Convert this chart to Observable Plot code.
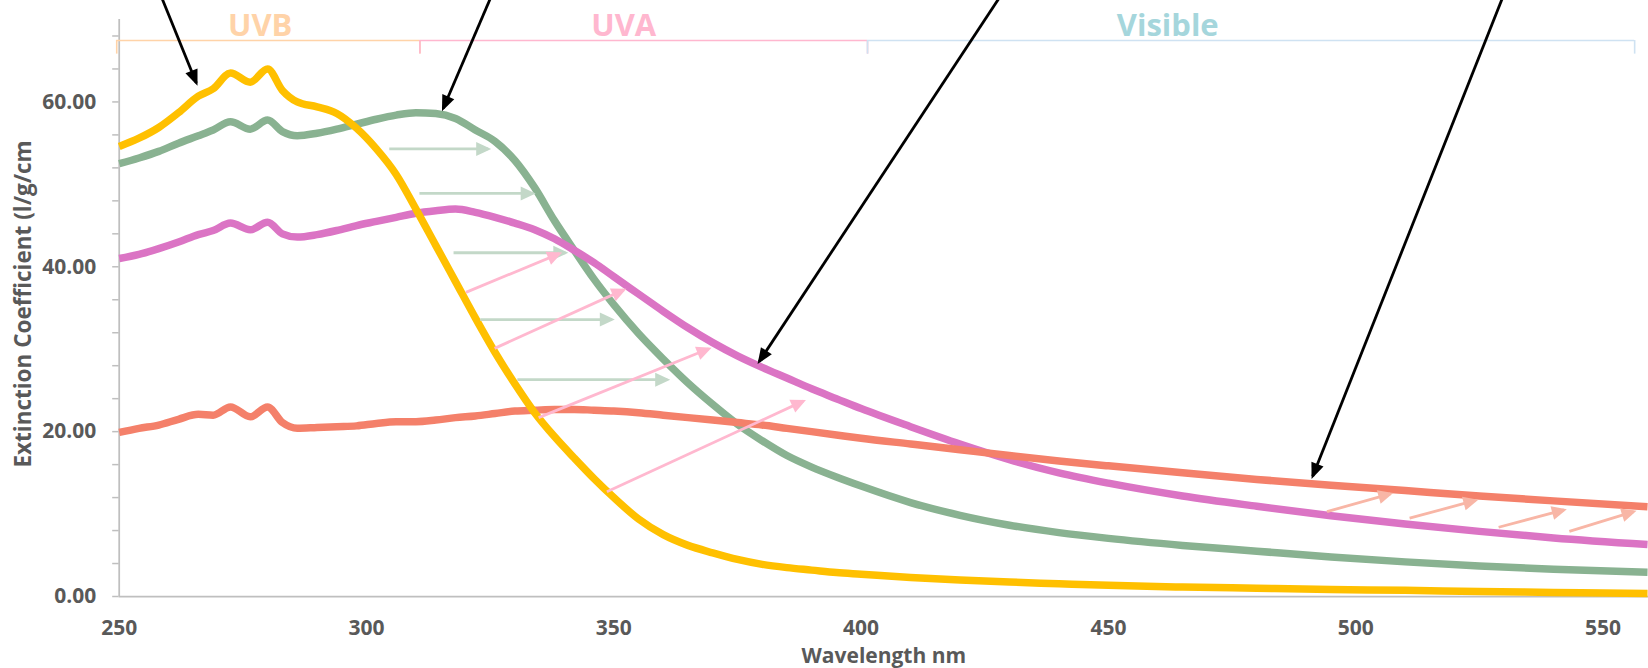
<!DOCTYPE html>
<html>
<head>
<meta charset="utf-8">
<script src="https://cdn.jsdelivr.net/npm/d3@7"></script>
<script src="https://cdn.jsdelivr.net/npm/@observablehq/plot@0.6"></script>
<style>
  html, body { margin: 0; padding: 0; background: #ffffff; }
  #chart svg { display: block; }
</style>
</head>
<body>
<div id="chart"></div>
<script>
// Wavelength grid (nm) shared by the four absorbance spectra
const wavelengths = [250, 254, 258, 262, 266, 269, 272.5, 276.5, 280, 283,
  286, 290, 294, 298, 302, 306, 310, 314, 318, 322,
  326, 330, 334, 338, 342, 346, 350, 355, 360, 365,
  370, 375, 380, 385, 390, 395, 400, 410, 420, 430,
  440, 450, 465, 480, 495, 510, 525, 540, 559];

// Extinction coefficients (l/g/cm)
const goldValues = [54.6, 55.6, 56.9, 58.7, 60.7, 61.6, 63.5, 62.4, 64.0, 61.4,
  60.0, 59.4, 58.6, 56.8, 54.3, 51.2, 47.0, 42.6, 38.2, 33.8,
  29.6, 25.8, 22.3, 19.4, 16.8, 14.3, 12.0, 9.4, 7.5, 6.2,
  5.3, 4.5, 3.9, 3.5, 3.2, 2.9, 2.7, 2.3, 2.0, 1.75,
  1.55, 1.35, 1.15, 1.0, 0.85, 0.75, 0.6, 0.5, 0.35];
const sageValues = [52.5, 53.2, 54.0, 55.0, 55.9, 56.6, 57.6, 56.7, 57.8, 56.4,
  55.9, 56.2, 56.7, 57.3, 57.9, 58.4, 58.7, 58.6, 58.0, 56.6,
  55.2, 52.9, 49.6, 45.6, 42.0, 38.5, 35.4, 31.9, 28.8, 25.9,
  23.3, 20.9, 18.9, 17.1, 15.7, 14.5, 13.4, 11.4, 9.85, 8.65,
  7.75, 7.05, 6.2, 5.5, 4.8, 4.2, 3.7, 3.3, 2.95];
const orchidValues = [41.0, 41.5, 42.2, 43.0, 43.9, 44.4, 45.3, 44.5, 45.4, 44.0,
  43.6, 43.9, 44.4, 45.0, 45.5, 46.0, 46.5, 46.8, 47.0, 46.6,
  46.0, 45.3, 44.5, 43.4, 42.0, 40.5, 38.8, 36.7, 34.6, 32.6,
  30.8, 29.2, 27.8, 26.5, 25.2, 24.0, 22.8, 20.6, 18.5, 16.6,
  15.0, 13.75, 12.2, 10.95, 9.8, 8.8, 7.9, 7.1, 6.3];
const coralValues = [19.9, 20.4, 20.8, 21.5, 22.1, 22.0, 23.0, 21.8, 23.0, 21.1,
  20.4, 20.5, 20.6, 20.7, 21.0, 21.2, 21.2, 21.4, 21.7, 21.9,
  22.2, 22.5, 22.6, 22.7, 22.7, 22.6, 22.5, 22.3, 22.0, 21.7,
  21.4, 21.1, 20.8, 20.4, 20.0, 19.6, 19.2, 18.5, 17.8, 17.1,
  16.45, 15.85, 15.0, 14.2, 13.5, 12.85, 12.2, 11.6, 10.9];

const seriesNames = ["sage", "orchid", "coral", "gold"];
const seriesColors = ["#89B291", "#DB74C4", "#F4806A", "#FFC000"];
const seriesValues = {sage: sageValues, orchid: orchidValues, coral: coralValues, gold: goldValues};

// Axis ticks
const xTicks = [250, 300, 350, 400, 450, 500, 550];
const yLabelTicks = [0, 20, 40, 60];
const yMinorTicks = d3.range(0, 70, 4);

// Spectral regions marked above the curves (nm)
const bandNames = ["UVB", "UVA", "Visible"];
const bandStart = [249.5, 310.8, 401.3];
const bandEnd = [310.8, 401.3, 556.4];
const bandLabelAt = [278.5, 352, 462];

// Shift arrows: start and end points [nm, value]
const sageShiftFrom = [[304.6, 54.3], [310.7, 48.9], [317.6, 41.7], [323.0, 33.6], [330.5, 26.3]];
const sageShiftTo = [[324.6, 54.3], [333.6, 48.9], [340.2, 41.7], [349.6, 33.6], [360.8, 26.3]];
const orchidShiftFrom = [[320.1, 36.9], [325.9, 30.1], [334.8, 21.7], [348.6, 12.7]];
const orchidShiftTo = [[339.0, 41.6], [352.0, 37.2], [369.2, 30.05], [388.3, 23.7]];
const coralShiftFrom = [[494.2, 10.3], [510.9, 9.5], [528.9, 8.4], [543.2, 7.9]];
const coralShiftTo = [[507.0, 12.45], [524.2, 11.65], [542.1, 10.5], [556.2, 10.3]];

// Pointer arrows coming in from above the plot
const pointerFrom = [[258.7, 72.5], [325.0, 72.5], [427.8, 72.5], [529.6, 72.5]];
const pointerTo = [[265.6, 62.3], [315.5, 59.2], [379.4, 28.5], [491.3, 14.6]];

// ---- derived tables ----
const rows = seriesNames.flatMap(name =>
  wavelengths.map((w, i) => ({series: name, wavelength: w, value: seriesValues[name][i]})));

const pairs = (from, to) => from.map((f, i) => ({x1: f[0], y1: f[1], x2: to[i][0], y2: to[i][1]}));

const bandStyle = {
  UVB: {text: "#FFD3A8", line: "#FFD3A8"},
  UVA: {text: "#FFB7CF", line: "#FFB7CF"},
  Visible: {text: "#A5D6DC", line: "#CFE2F2"}
};
const bands = bandNames.map((name, i) => ({name, start: bandStart[i], end: bandEnd[i], labelAt: bandLabelAt[i]}));
const bracketLevel = 67.45;
const bracketFoot = 65.8;
const bandLabelLevel = 69.15;

const axisGray = "#BFBFBF";
const linkOpts = {x1: "x1", y1: "y1", x2: "x2", y2: "y2", strokeWidth: 2.8, markerEnd: "arrow"};

const chart = Plot.plot({
  width: 1648,
  height: 668,
  marginLeft: 118.7,
  marginRight: 0,
  marginTop: 19,
  marginBottom: 72,
  style: {
    fontFamily: "'Open Sans', sans-serif",
    fontSize: "21px",
    fontWeight: "700",
    color: "#595959",
    background: "#ffffff",
    overflow: "visible"
  },
  x: {domain: [250, 559.2]},
  y: {domain: [0, 70]},
  color: {domain: seriesNames, range: seriesColors},
  marks: [
    // axes
    Plot.ruleY([0], {stroke: axisGray, strokeWidth: 1.75}),
    Plot.ruleX([250], {stroke: axisGray, strokeWidth: 1.75}),
    Plot.axisY({ticks: yMinorTicks, tickSize: 6.5, tickFormat: () => "", stroke: axisGray, strokeWidth: 1.5, label: null}),
    Plot.axisY({ticks: yLabelTicks, tickSize: 0, tickPadding: 23, tickFormat: d3.format(".2f"),
      fontSize: 21, fontWeight: 700, fill: "#595959", label: null}),
    Plot.axisX({ticks: xTicks, tickSize: 0, tickPadding: 24, tickFormat: d => `${d}`,
      fontSize: 21, fontWeight: 700, fill: "#595959", label: null}),

    // spectral region brackets
    ...bands.flatMap(b => [
      Plot.ruleY([b], {y: () => bracketLevel, x1: "start", x2: "end", stroke: bandStyle[b.name].line, strokeWidth: 1.6}),
      Plot.ruleX([b.start, b.end], {y1: bracketFoot, y2: bracketLevel, stroke: bandStyle[b.name].line, strokeWidth: 1.6}),
      Plot.text([b], {x: "labelAt", y: () => bandLabelLevel, text: "name", fill: bandStyle[b.name].text,
        fontSize: 31, fontWeight: 700})
    ]),

    // spectra
    Plot.line(rows, {x: "wavelength", y: "value", z: "series", stroke: "series",
      strokeWidth: 7.5, curve: "monotone-x", strokeLinejoin: "round", strokeLinecap: "butt"}),

    // shift arrows
    Plot.link(pairs(sageShiftFrom, sageShiftTo), {...linkOpts, stroke: "#C3D8C8"}),
    Plot.link(pairs(orchidShiftFrom, orchidShiftTo), {...linkOpts, stroke: "#FFB8CF"}),
    Plot.link(pairs(coralShiftFrom, coralShiftTo), {...linkOpts, stroke: "#F8B6A6"}),

    // pointers
    Plot.link(pairs(pointerFrom, pointerTo), {...linkOpts, stroke: "#000000"}),

    // axis titles
    Plot.text(["Wavelength nm"], {frameAnchor: "bottom", lineAnchor: "middle", dy: 60, text: d => d,
      fontSize: 21, fontWeight: 700, fill: "#595959"}),
    Plot.text(["Extinction Coefficient (l/g/cm"], {frameAnchor: "left", textAnchor: "middle", lineAnchor: "middle",
      dx: -95, dy: -4, rotate: -90, text: d => d, fontSize: 22.5, fontWeight: 700, fill: "#595959"})
  ]
});

// Turn the link arrowheads into solid triangles
d3.select(chart).selectAll("marker").each(function () {
  const m = d3.select(this);
  const color = m.attr("stroke") || "#000000";
  const dark = /^(#000000|#000|black)$/i.test(color);
  const len = dark ? 16 : 15, wid = dark ? 13 : 14;
  m.attr("viewBox", `${-len} ${-wid / 2} ${len} ${wid}`)
    .attr("markerWidth", len)
    .attr("markerHeight", wid)
    .attr("markerUnits", "userSpaceOnUse")
    .attr("refX", -3)
    .attr("refY", 0)
    .attr("overflow", "visible")
    .attr("fill", color)
    .attr("stroke", "none");
  m.selectAll("path")
    .attr("d", `M0,0L${-len},${-wid / 2}L${-len},${wid / 2}Z`)
    .attr("fill", color)
    .attr("stroke", "none");
});

document.getElementById("chart").appendChild(chart);
</script>
</body>
</html>
